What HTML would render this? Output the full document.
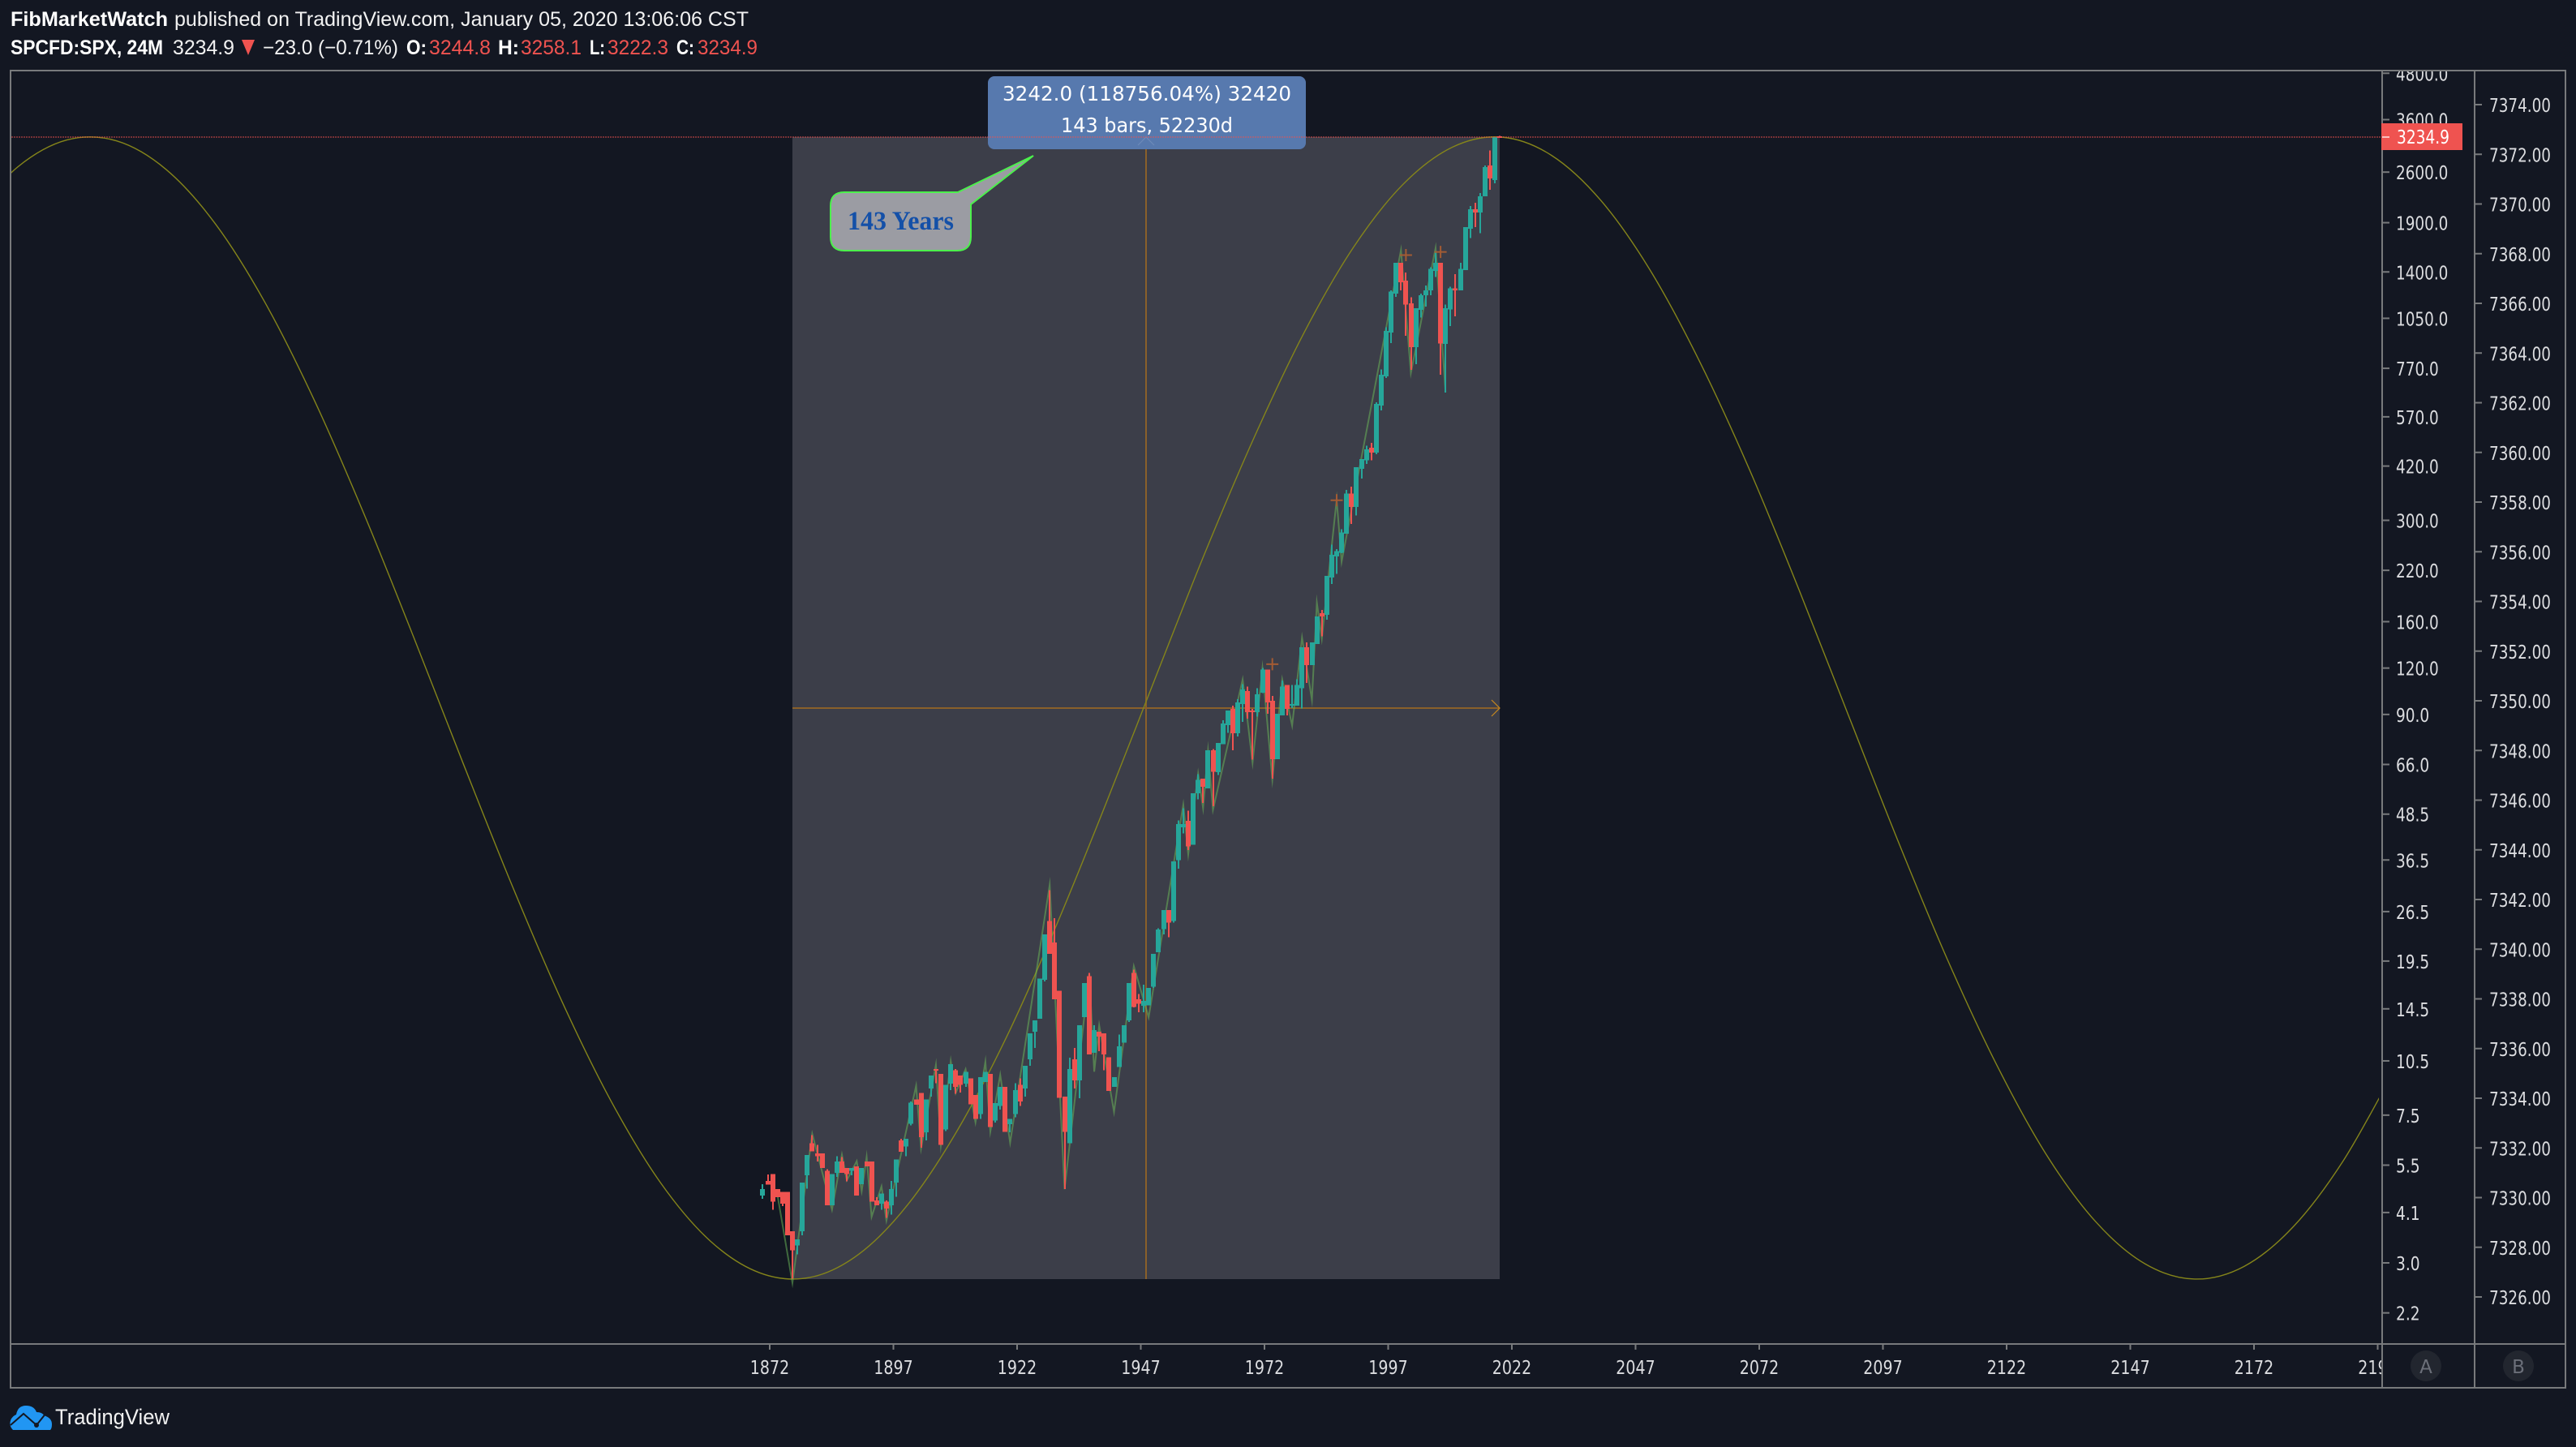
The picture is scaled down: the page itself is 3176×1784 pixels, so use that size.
<!DOCTYPE html>
<html lang="en">
<head>
<meta charset="utf-8">
<title>SPCFD:SPX 24M chart</title>
<style>
html,body{margin:0;padding:0;background:#131722;}
svg{display:block;position:absolute;left:0;top:0;}
.hd{font-family:"Liberation Sans",sans-serif;font-size:25px;fill:#f2f2f2;}
.b{font-weight:bold;fill:#fff;}
.r{fill:#ef5350;}
.ax{font-family:"DejaVu Sans",sans-serif;font-size:23px;fill:#dcdde0;}
</style>
</head>
<body>
<svg id="chart" xmlns="http://www.w3.org/2000/svg" width="3176" height="1784" viewBox="0 0 3176 1784">
  <defs>
    <clipPath id="paneClip"><rect x="14" y="88" width="2919" height="1568"/></clipPath>
    <clipPath id="leftAxisClip"><rect x="2938" y="88" width="112" height="1568"/></clipPath>
    <clipPath id="timeClip"><rect x="14" y="1658" width="2922" height="52"/></clipPath>
  </defs>
  <rect x="0" y="0" width="3176" height="1784" fill="#131722"/>

  <text class="hd" x="13" y="32" textLength="194" lengthAdjust="spacingAndGlyphs" style="font-weight:bold;fill:#fff">FibMarketWatch</text>
  <text class="hd" x="215" y="32" textLength="708" lengthAdjust="spacingAndGlyphs">published on TradingView.com, January 05, 2020 13:06:06 CST</text>
  <text class="hd b" x="13" y="67" textLength="188" lengthAdjust="spacingAndGlyphs">SPCFD:SPX, 24M</text>
  <text class="hd" x="213" y="67" textLength="76" lengthAdjust="spacingAndGlyphs">3234.9</text>
  <polygon points="298,49 314,49 306,68" fill="#ef5350"/>
  <text class="hd" x="324" y="67" textLength="167" lengthAdjust="spacingAndGlyphs">−23.0 (−0.71%)</text>
  <text class="hd b" x="501" y="67" textLength="25" lengthAdjust="spacingAndGlyphs">O:</text>
  <text class="hd r" x="529" y="67" textLength="76" lengthAdjust="spacingAndGlyphs">3244.8</text>
  <text class="hd b" x="614" y="67" textLength="26" lengthAdjust="spacingAndGlyphs">H:</text>
  <text class="hd r" x="642" y="67" textLength="75" lengthAdjust="spacingAndGlyphs">3258.1</text>
  <text class="hd b" x="727" y="67" textLength="19" lengthAdjust="spacingAndGlyphs">L:</text>
  <text class="hd r" x="749" y="67" textLength="75" lengthAdjust="spacingAndGlyphs">3222.3</text>
  <text class="hd b" x="834" y="67" textLength="22" lengthAdjust="spacingAndGlyphs">C:</text>
  <text class="hd r" x="860" y="67" textLength="74" lengthAdjust="spacingAndGlyphs">3234.9</text>

  <g id="pane" clip-path="url(#paneClip)">
    <rect x="977" y="169" width="872" height="1408" fill="#3c3e49"/>
    <line x1="1413" y1="169" x2="1413" y2="1577" stroke="#8a602a" stroke-width="2"/>
    <line x1="977" y1="873" x2="1849" y2="873" stroke="#8a602a" stroke-width="2"/>
    <polyline points="1839,863 1849,873 1839,883" fill="none" stroke="#c98a1e" stroke-width="1.2"/>
    <g id="sineLayer"></g>
    <g id="zigzagLayer"></g>
    <g id="candleLayer" shape-rendering="crispEdges"></g>
    <g id="crossLayer"></g>
  </g>

  <rect x="1218" y="94" width="392" height="90" rx="8" fill="#5779ae"/>
  <text x="1236" y="124" textLength="356" lengthAdjust="spacingAndGlyphs" font-family="'DejaVu Sans',sans-serif" font-size="25" fill="#fff">3242.0 (118756.04%) 32420</text>
  <text x="1308" y="163" textLength="212" lengthAdjust="spacingAndGlyphs" font-family="'DejaVu Sans',sans-serif" font-size="25" fill="#fff">143 bars, 52230d</text>
  <polyline points="1403,179 1413,169 1423,179" fill="none" stroke="rgba(255,255,255,.13)" stroke-width="1.2"/>
  <line x1="14" y1="169" x2="2936" y2="169" stroke="rgba(239,83,80,.45)" stroke-width="2" stroke-dasharray="2 1"/>

  <path d="M1041,237 L1181,237 L1274,192 L1197,252 L1197,292 Q1197,309 1180,309 L1041,309 Q1024,309 1024,292 L1024,254 Q1024,237 1041,237 Z" fill="#9b9ca3" stroke="#4cf04c" stroke-width="2"/>
  <text x="1045" y="283" textLength="131" lengthAdjust="spacingAndGlyphs" font-family="'Liberation Serif',serif" font-weight="bold" font-size="33" fill="#1450a8">143 Years</text>

  <g stroke="#787a7c" stroke-width="2">
    <line x1="13" y1="87" x2="3164" y2="87"/>
    <line x1="13" y1="1711" x2="3164" y2="1711"/>
    <line x1="13" y1="1657" x2="3164" y2="1657"/>
    <line x1="13" y1="86" x2="13" y2="1712"/>
    <line x1="2937" y1="86" x2="2937" y2="1712"/>
    <line x1="3051" y1="86" x2="3051" y2="1712"/>
    <line x1="3163" y1="86" x2="3163" y2="1712"/>
  </g>

  <g id="leftAxis" clip-path="url(#leftAxisClip)"></g>
  <g id="rightAxis"></g>
  <g id="timeAxis" clip-path="url(#timeClip)"></g>

  <rect x="2936" y="152" width="100" height="33" fill="#ef5350"/>
  <line x1="2937" y1="169" x2="2946" y2="169" stroke="#f9c0be" stroke-width="2"/>
  <text x="2955" y="177" textLength="65" lengthAdjust="spacingAndGlyphs" font-family="'DejaVu Sans',sans-serif" font-size="23" fill="#fff">3234.9</text>

  <circle cx="2991" cy="1684" r="19" fill="#22262f"/>
  <text x="2991" y="1693" text-anchor="middle" font-family="'DejaVu Sans',sans-serif" font-size="23" fill="#6b6f79">A</text>
  <circle cx="3105" cy="1684" r="19" fill="#22262f"/>
  <text x="3105" y="1693" text-anchor="middle" font-family="'DejaVu Sans',sans-serif" font-size="23" fill="#6b6f79">B</text>

  <g>
    <path d="M16,1763 Q10,1757 14,1749 Q17,1745 20,1744 Q22,1733 32,1733 Q42,1733 45,1741 Q52,1741 54,1745 Q64,1748 64,1756 Q64,1761 62,1763 Z" fill="#2196f3"/>
    <polyline points="13,1757 29,1743 45,1757 57,1742" fill="none" stroke="#131722" stroke-width="2"/>
    <circle cx="45" cy="1757" r="3" fill="#131722"/>
    <text x="68" y="1756" textLength="141" lengthAdjust="spacingAndGlyphs" font-family="'Liberation Sans',sans-serif" font-size="27" fill="#f2f2f2">TradingView</text>
  </g>
</svg>

<script>
// ---------- chart data ----------
var firstBarOffset = -6;
var opens = [4.55,4.99,5.21,4.74,4.66,4.66,3.65,3.34,3.65,5.16,6.30,5.92,5.92,5.31,4.29,5.25,5.63,5.41,5.31,5.46,4.89,5.63,5.63,4.42,4.33,4.39,4.29,4.94,6.42,6.17,7.10,8.26,8.60,6.75,8.84,9.99,9.69,6.87,9.13,9.90,9.59,9.13,9.41,8.49,7.55,9.21,9.69,7.25,7.94,8.93,7.10,7.55,9.04,8.84,10.61,12.58,13.64,17.36,24.98,21.9,16.2,8.42,6.30,10.61,9.31,13.77,17.75,11.05,12.58,12.46,10.73,8.93,10.1,11.75,13.5,18.1,15.4,14.8,14.8,16.65,20.6,23.74,26.75,25,36.5,44.7,46.5,40.1,55.25,60.5,56.9,72,63,74.8,84.3,93.2,80.2,96,104,92.3,91.3,102.9,119,98,68.2,89.5,108,95,95.1,106,136.6,122.3,139.3,168.8,167,210.4,240,245,276,354,326,413,435,471,457,612,733,962,1225,1483,1327,1153,878,1108,1213,1250,1410,1483,897,1108,1263,1250,1415,1832,2067,2025,2240,2712,2477,3244.8];
var highs = [4.89,5.19,5.21,4.74,4.66,4.66,3.65,3.47,4.94,5.86,6.62,6.23,5.92,5.36,5.20,5.81,5.79,5.41,5.41,5.46,5.41,5.63,5.63,4.51,4.61,4.42,4.98,5.69,6.47,6.47,8.16,8.26,8.60,8.26,9.59,9.99,9.69,9.04,10.30,9.99,9.59,9.80,9.41,8.49,9.50,9.80,9.69,8.08,8.93,8.93,7.32,9.13,9.41,10.18,12.46,13.5,17.5,23.0,30.26,25.46,16.2,8.42,10.7,11.39,13.1,17.03,18.1,13.1,12.58,12.46,10.73,9.5,12.35,13.1,17.03,18.5,15.9,16.85,16.5,20.4,23.9,26.75,26.75,36.2,46.6,50.3,49.5,55.25,62.1,60.5,72,72.7,75.5,86.8,92.3,95,99,108.7,107,93.2,106,120,119,101,90.4,111,108,108,112,136.6,140.7,140.7,165.4,172.2,212.7,258,251,284,362,370,417,439,476,485,624,765,992,1250,1483,1483,1395,1195,1119,1225,1288,1442,1592,1483,1142,1276,1382,1483,1850,2109,2150,2285,2712,2970,3232,3258.1];
var lows = [4.46,4.87,4.17,4.51,4.27,3.56,2.72,3.16,3.56,4.75,5.99,5.63,5.41,4.29,4.29,5.11,5.25,4.98,5.16,4.56,4.89,5.46,4.39,4.29,4.17,3.97,4.05,4.52,5.97,5.81,7.03,8.01,6.13,6.42,8.42,9.13,6.23,6.80,8.76,8.57,8.62,8.93,8.01,7.32,7.32,9.21,6.96,7.17,7.77,6.75,6.75,7.39,7.94,8.42,10.18,11.39,13.64,17.2,20.4,15.4,8.34,4.74,6.30,8.84,8.34,13.77,10.93,11.05,11.15,9.9,8.71,8.93,10.1,11.75,13.36,14.65,14.2,14.2,14.8,16.5,20.6,23.0,22.6,24.74,34.6,43,38.8,40.1,53.1,52,56.9,51,61.8,74.8,80.2,72,78.6,86,87.6,68,88.9,102.9,90.4,60.5,68.2,89.5,89.5,93.6,95.1,93.5,109.5,122.3,139.3,146,162,202,215,245,276,293,309,389,426,435,452,593,725,900,1200,1250,942,763,790,1055,1130,1213,1355,740,663,1002,1063,1250,1415,1727,1850,1780,2240,2330,2428,3222.3];
var closes = [4.74,4.87,4.39,4.51,4.33,3.56,3.24,3.47,4.94,5.86,5.99,5.81,5.41,4.29,5.20,5.63,5.25,5.20,5.41,4.56,5.41,5.46,4.39,4.29,4.61,4.20,4.74,5.69,5.97,6.47,8.10,8.01,6.54,8.26,9.59,9.92,6.23,9.04,10.30,8.93,9.04,9.80,8.01,7.32,9.50,9.80,6.96,8.08,8.93,6.75,7.32,8.76,8.16,10.18,12.46,13.5,17.5,23.0,20.4,15.4,8.34,6.75,9.99,9.31,13.1,17.03,10.93,12.7,12.2,10.93,8.71,9.5,11.5,13.1,17.03,14.65,14.95,15.25,16.5,20.4,23.74,26.75,24.74,36.2,45.6,45.6,39.7,55.25,60,57.5,72,63,75.5,85,92.3,80.2,97,105,91.3,91.3,102,119,97,68.2,90.4,107,93.2,96,108,136.6,122.3,140.7,165.4,165.4,212.7,242.5,247.5,278,354,326,417,439,466,457,618,740,972,1238,1483,1314,1142,878,1119,1213,1250,1427,1483,897,1119,1263,1250,1427,1850,2067,2025,2240,2685,2502,3232,3234.9];

var zigzagBars = [-3,0,4,8,10,11,13,14,15,16,18,19,25,26,29,30,32,33,35,37,39,40,42,44,52,55,60,61,62,65,69,72,79,80,82,83,84,85,91,93,95,97,99,101,103,105,106,107,110,111,123,125,130,132];
var zigzagPrices = [4.55,2.65,6.68,4.17,5.87,5.01,5.64,4.68,5.79,3.99,4.82,3.90,9.0,6.1,10.25,6.23,10.5,8.6,9.97,7.17,10.45,6.77,9.63,6.32,31.3,4.74,18.1,9.82,13.1,7.65,18.9,13.75,51.4,37.8,62.4,50.3,72,49.8,111.8,66.7,120,60,111.8,84,145,98.5,180,144,341,232,1604,748,1625,665];

var crossBars = [97,110,124,131];
var crossPrices = [122.9,339.8,1554,1585];

var sineYears = [1710,1720,1730,1740,1750,1760,1770,1780,1790,1800,1810,1820,1830,1840,1850,1860,1870,1880,1890,1900,1910,1920,1930,1940,1950,1960,1970,1980,1990,2000,2010,2020,2030,2040,2050,2060,2070,2080,2090,2100,2110,2120,2130,2140,2150,2160,2170,2180,2190,2200];
var sineValues = [7369.35,7371.49,7372.58,7372.54,7371.39,7369.19,7366.03,7362.08,7357.52,7352.58,7347.50,7342.53,7337.90,7333.86,7330.58,7328.25,7326.97,7326.78,7327.72,7329.74,7332.73,7336.52,7340.99,7345.88,7350.95,7355.97,7360.64,7364.82,7368.26,7370.79,7372.29,7372.69,7371.96,7370.14,7367.32,7363.64,7359.32,7354.49,7349.43,7344.38,7339.60,7335.34,7331.74,7329.03,7327.33,7326.72,7327.23,7328.84,7331.47,7334.99];

var leftTickLabels = ["4800.0","3600.0","2600.0","1900.0","1400.0","1050.0","770.0","570.0","420.0","300.0","220.0","160.0","120.0","90.0","66.0","48.5","36.5","26.5","19.5","14.5","10.5","7.5","5.5","4.1","3.0","2.2"];
var rightTickLabels = ["7374.00","7372.00","7370.00","7368.00","7366.00","7364.00","7362.00","7360.00","7358.00","7356.00","7354.00","7352.00","7350.00","7348.00","7346.00","7344.00","7342.00","7340.00","7338.00","7336.00","7334.00","7332.00","7330.00","7328.00","7326.00"];
var timeTickLabels = ["1872","1897","1922","1947","1972","1997","2022","2047","2072","2097","2122","2147","2172","2197"];

// ---------- axis functions ----------
function yLeft(price){ return 1557 - 198.8 * Math.log(price / 3); }
function yRight(value){ return 129 + (7374 - value) * 30.625; }
function xBar(bar){ return 977 + 6.1 * bar; }
function xYear(year){ return 949 + 6.1 * (year - 1872); }

var SVGNS = 'http://www.w3.org/2000/svg';
function make(tag, attrs, parent){
  var el = document.createElementNS(SVGNS, tag);
  for (var k in attrs) el.setAttribute(k, attrs[k]);
  parent.appendChild(el);
  return el;
}
function labelWidth(s){
  var w = 0;
  for (var i = 0; i < s.length; i++) w += (s[i] === '.') ? 6.4 : 11.6;
  return w;
}

// sine curve (smooth path through the knots)
(function(){
  var pts = [];
  for (var i = 0; i < sineYears.length; i++) pts.push([xYear(sineYears[i]), yRight(sineValues[i])]);
  var d = 'M' + pts[0][0] + ',' + pts[0][1];
  for (var j = 0; j < pts.length - 1; j++) {
    var p0 = pts[Math.max(j - 1, 0)], p1 = pts[j], p2 = pts[j + 1], p3 = pts[Math.min(j + 2, pts.length - 1)];
    d += ' C' + (p1[0] + (p2[0] - p0[0]) / 6) + ',' + (p1[1] + (p2[1] - p0[1]) / 6) + ' ' +
         (p2[0] - (p3[0] - p1[0]) / 6) + ',' + (p2[1] - (p3[1] - p1[1]) / 6) + ' ' + p2[0] + ',' + p2[1];
  }
  var sine = make('path', {d: d, fill: 'none', stroke: '#85851a', 'stroke-width': 1.4}, document.getElementById('sineLayer'));
  
  
})();

// zigzag line
(function(){
  var pts = [];
  for (var i = 0; i < zigzagBars.length; i++) pts.push(xBar(zigzagBars[i]).toFixed(1) + ',' + yLeft(zigzagPrices[i]).toFixed(1));
  var zz = make('polyline', {points: pts.join(' '), fill: 'none', stroke: 'rgba(110,190,90,.5)', 'stroke-width': 2, 'stroke-linejoin': 'miter', 'stroke-miterlimit': 12}, document.getElementById('zigzagLayer'));
  
  
})();

// candles
(function(){
  var layer = document.getElementById('candleLayer');
  for (var i = 0; i < opens.length; i++) {
    var bar = firstBarOffset + i;
    var x = xBar(bar);
    var up = closes[i] >= opens[i];
    var color = up ? '#26a69a' : '#ef5350';
    var g = make('g', {}, layer);
    
    
    var yHigh = yLeft(highs[i]), yLow = yLeft(lows[i]);
    var wick = make('rect', {x: Math.round(x - 1), y: yHigh.toFixed(1), width: 2, height: Math.max(yLow - yHigh, 1).toFixed(1), fill: color}, g);
    
    
    var yTop = yLeft(Math.max(opens[i], closes[i])), yBot = yLeft(Math.min(opens[i], closes[i]));
    var body = make('rect', {x: Math.round(x - 3), y: yTop.toFixed(1), width: 6, height: Math.max(yBot - yTop, 2).toFixed(1), fill: color}, g);
    
    
  }
})();

// cross markers
(function(){
  var layer = document.getElementById('crossLayer');
  for (var i = 0; i < crossBars.length; i++) {
    var cx = xBar(crossBars[i]), cy = yLeft(crossPrices[i]);
    var c = make('path', {d: 'M' + (cx - 7.5) + ',' + cy + 'H' + (cx + 7.5) + 'M' + cx + ',' + (cy - 7.5) + 'V' + (cy + 7.5), stroke: '#a35b33', 'stroke-width': 2, fill: 'none'}, layer);
    
    
  }
})();

// left (log) price axis
(function(){
  var layer = document.getElementById('leftAxis');
  for (var i = 0; i < leftTickLabels.length; i++) {
    var s = leftTickLabels[i], y = yLeft(parseFloat(s));
    var t = make('line', {x1: 2938, x2: 2946, y1: y, y2: y, stroke: '#787a7c', 'stroke-width': 2}, layer);
    
    
    var l = make('text', {x: 2954, y: y + 9, 'class': 'ax', textLength: labelWidth(s), lengthAdjust: 'spacingAndGlyphs'}, layer);
    
    
    l.textContent = s;
  }
})();

// right (linear) price axis
(function(){
  var layer = document.getElementById('rightAxis');
  for (var i = 0; i < rightTickLabels.length; i++) {
    var s = rightTickLabels[i], y = yRight(parseFloat(s));
    var t = make('line', {x1: 3052, x2: 3060, y1: y, y2: y, stroke: '#787a7c', 'stroke-width': 2}, layer);
    
    
    var l = make('text', {x: 3069, y: y + 9, 'class': 'ax', textLength: labelWidth(s), lengthAdjust: 'spacingAndGlyphs'}, layer);
    
    
    l.textContent = s;
  }
})();

// time axis
(function(){
  var layer = document.getElementById('timeAxis');
  for (var i = 0; i < timeTickLabels.length; i++) {
    var s = timeTickLabels[i], x = xYear(parseFloat(s));
    var t = make('line', {x1: x, x2: x, y1: 1658, y2: 1664, stroke: '#787a7c', 'stroke-width': 2}, layer);
    
    
    var w = labelWidth(s) + 2;
    var l = make('text', {x: x - w / 2, y: 1694, 'class': 'ax', textLength: w, lengthAdjust: 'spacingAndGlyphs'}, layer);
    
    
    l.textContent = s;
  }
})();
</script>
</body>
</html>
